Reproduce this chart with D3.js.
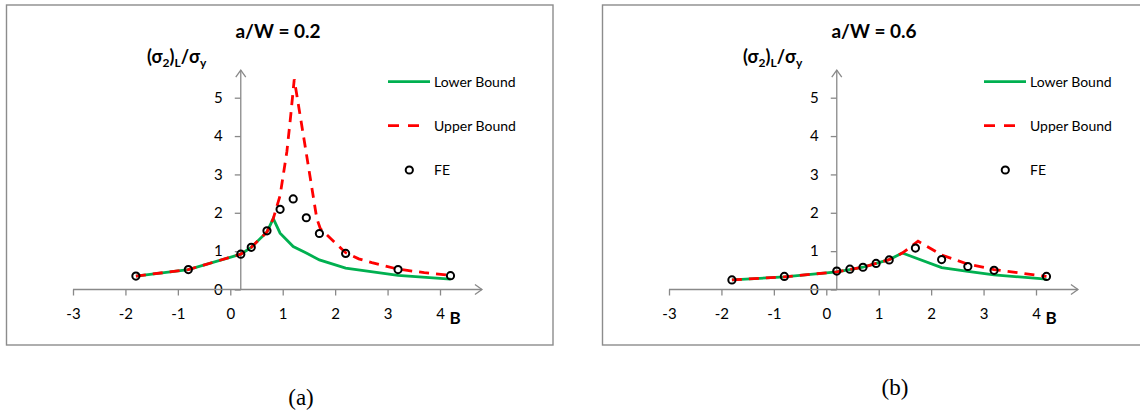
<!DOCTYPE html>
<html lang="en">
<head>
<meta charset="UTF-8" />
<title>(σ2)L/σy versus B</title>
<script src="https://d3js.org/d3.v7.min.js"></script>
<style>
  body { margin: 0; background: #fff; }
  svg { display: block; font-family: Lato, "Liberation Sans", sans-serif; }
  .axis path.domain { display: none; }
  .axis line { stroke: #898989; stroke-width: 1.3; }
  .axis text { font-size: 15px; fill: #000; font-family: Lato, sans-serif; }
  .axis-line { stroke: #898989; stroke-width: 1.3; fill: none; }
  .frame { fill: none; stroke: #8c8c8c; stroke-width: 1.4; }
</style>
</head>
<body>
<div id="chart"></div>
<script>
const xTicks = [-3, -2, -1, 0, 1, 2, 3, 4];
const yTicks = [0, 1, 2, 3, 4, 5];
const legendLabels = ["Lower Bound", "Upper Bound", "FE"];

// a/W = 0.2
const lowerB_a = [-1.8, -0.8, 0.2, 0.4, 0.7, 0.82, 0.95, 1.2, 1.45, 1.7, 2.2, 3.2, 4.2];
const lowerVal_a = [0.35, 0.52, 0.92, 1.1, 1.5, 1.85, 1.47, 1.12, 0.95, 0.77, 0.56, 0.37, 0.27];
const upperB_a = [-1.8, -0.8, 0.2, 0.4, 0.7, 0.82, 0.95, 1.08, 1.15, 1.22, 1.45, 1.65, 1.72, 2.2, 2.45, 2.7, 3.2, 3.7, 4.2];
const upperVal_a = [0.35, 0.52, 0.92, 1.1, 1.5, 1.85, 2.45, 3.6, 4.5, 5.48, 3.55, 1.85, 1.58, 0.96, 0.8, 0.7, 0.53, 0.44, 0.37];
const feB_a = [-1.8, -0.8, 0.2, 0.4, 0.7, 0.95, 1.2, 1.45, 1.7, 2.2, 3.2, 4.2];
const feVal_a = [0.35, 0.52, 0.92, 1.1, 1.53, 2.09, 2.36, 1.87, 1.46, 0.94, 0.52, 0.36];

// a/W = 0.6
const lowerB_b = [-1.8, -0.8, 0.2, 0.45, 0.7, 0.95, 1.2, 1.45, 2.2, 2.7, 3.2, 4.2];
const lowerVal_b = [0.25, 0.33, 0.46, 0.52, 0.58, 0.68, 0.78, 0.95, 0.57, 0.47, 0.38, 0.27];
const upperB_b = [-1.8, -0.8, 0.2, 0.45, 0.7, 0.95, 1.2, 1.45, 1.75, 2.2, 2.7, 3.2, 4.2];
const upperVal_b = [0.25, 0.33, 0.46, 0.52, 0.58, 0.68, 0.78, 0.95, 1.26, 0.9, 0.66, 0.52, 0.34];
const feB_b = [-1.8, -0.8, 0.2, 0.45, 0.7, 0.95, 1.2, 1.7, 2.2, 2.7, 3.2, 4.2];
const feVal_b = [0.25, 0.34, 0.48, 0.53, 0.58, 0.68, 0.77, 1.08, 0.78, 0.6, 0.5, 0.34];

const zip = (xs, ys) => xs.map((b, i) => ({ b: b, v: ys[i] }));

const panels = [
    { title: "a/W = 0.2", caption: "(a)", ox: 0, capX: 301, capY: 397,
      lower: zip(lowerB_a, lowerVal_a), upper: zip(upperB_a, upperVal_a), fe: zip(feB_a, feVal_a) },
    { title: "a/W = 0.6", caption: "(b)", ox: 596, capX: 895, capY: 387,
      lower: zip(lowerB_b, lowerVal_b), upper: zip(upperB_b, upperVal_b), fe: zip(feB_b, feVal_b) }
];

const svg = d3.select("#chart")
    .append("svg")
    .attr("width", 1140)
    .attr("height", 412);

const x = d3.scaleLinear().domain([-3, 4]).range([73, 440]);
const y = d3.scaleLinear().domain([0, 5]).range([289.5, 97.7]);
const xCross = 0.2;   // vertical axis crosses at B = 0.2
const fmt = d => String(d);

const line = d3.line().x(d => x(d.b)).y(d => y(d.v));

panels.forEach(p => {
    const g = svg.append("g").attr("transform", `translate(${p.ox},0)`);

    g.append("rect").attr("class", "frame")
        .attr("x", 6.5).attr("y", 5).attr("width", 546.5).attr("height", 340);

    // axes
    g.append("g").attr("class", "axis")
        .attr("transform", `translate(0,${y(0)})`)
        .call(d3.axisBottom(x).tickValues(xTicks).tickFormat(fmt).tickSize(6).tickPadding(13));

    g.append("g").attr("class", "axis")
        .attr("transform", `translate(${x(xCross)},0)`)
        .call(d3.axisLeft(y).tickValues(yTicks).tickFormat(fmt).tickSize(6).tickPadding(12));

    const xEnd = x(4.8), yEnd = y(5.72);
    g.append("line").attr("class", "axis-line")
        .attr("x1", x(-3)).attr("x2", xEnd).attr("y1", y(0)).attr("y2", y(0));
    g.append("polyline").attr("class", "axis-line")
        .attr("points", `${xEnd - 7},${y(0) - 5} ${xEnd},${y(0)} ${xEnd - 7},${y(0) + 5}`);
    g.append("line").attr("class", "axis-line")
        .attr("x1", x(xCross)).attr("x2", x(xCross)).attr("y1", y(0)).attr("y2", yEnd);
    g.append("polyline").attr("class", "axis-line")
        .attr("points", `${x(xCross) - 5},${yEnd + 7} ${x(xCross)},${yEnd} ${x(xCross) + 5},${yEnd + 7}`);

    // series
    g.append("path").datum(p.lower)
        .attr("d", line)
        .attr("fill", "none").attr("stroke", "#00b050").attr("stroke-width", 2.8);

    g.append("path").datum(p.upper)
        .attr("d", line)
        .attr("fill", "none").attr("stroke", "#ff0000").attr("stroke-width", 2.8)
        .attr("stroke-dasharray", "10,7");

    g.selectAll(".fe").data(p.fe).enter().append("circle")
        .attr("class", "fe")
        .attr("cx", d => x(d.b)).attr("cy", d => y(d.v)).attr("r", 3.6)
        .attr("fill", "none").attr("stroke", "#000").attr("stroke-width", 2);

    // titles
    g.append("text").attr("x", 278).attr("y", 38)
        .attr("text-anchor", "middle")
        .style("font-size", "19px").style("font-weight", "bold")
        .text(p.title);

    const yl = g.append("text").attr("x", 147).attr("y", 63)
        .style("font-size", "18px").style("font-weight", "bold");
    yl.append("tspan").text("(σ");
    yl.append("tspan").attr("dy", 4).style("font-size", "12px").text("2");
    yl.append("tspan").attr("dy", -4).text(")");
    yl.append("tspan").attr("dy", 4).style("font-size", "12px").text("L");
    yl.append("tspan").attr("dy", -4).text("/σ");
    yl.append("tspan").attr("dy", 4).style("font-size", "12px").text("y");

    g.append("text").attr("x", 455).attr("y", 324)
        .attr("text-anchor", "middle")
        .style("font-size", "17px").style("font-weight", "bold")
        .text("B");

    // legend
    const lg = g.append("g");
    lg.append("line").attr("x1", 388).attr("x2", 430).attr("y1", 81.7).attr("y2", 81.7)
        .attr("stroke", "#00b050").attr("stroke-width", 2.8);
    lg.append("line").attr("x1", 388).attr("x2", 422).attr("y1", 125.7).attr("y2", 125.7)
        .attr("stroke", "#ff0000").attr("stroke-width", 2.8).attr("stroke-dasharray", "11,9");
    lg.append("circle").attr("cx", 409.3).attr("cy", 170).attr("r", 3.6)
        .attr("fill", "none").attr("stroke", "#000").attr("stroke-width", 2);
    lg.selectAll(".lbl").data(legendLabels).enter().append("text")
        .attr("class", "lbl")
        .attr("x", 434).attr("y", (d, i) => 81.7 + i * 44.2)
        .attr("dy", "0.35em")
        .style("font-size", "14px")
        .text(d => d);

    svg.append("text").attr("x", p.capX).attr("y", p.capY)
        .attr("dy", "0.35em").attr("text-anchor", "middle")
        .style("font-family", "'Liberation Serif', serif").style("font-size", "23px")
        .text(p.caption);
});
</script>
</body>
</html>
